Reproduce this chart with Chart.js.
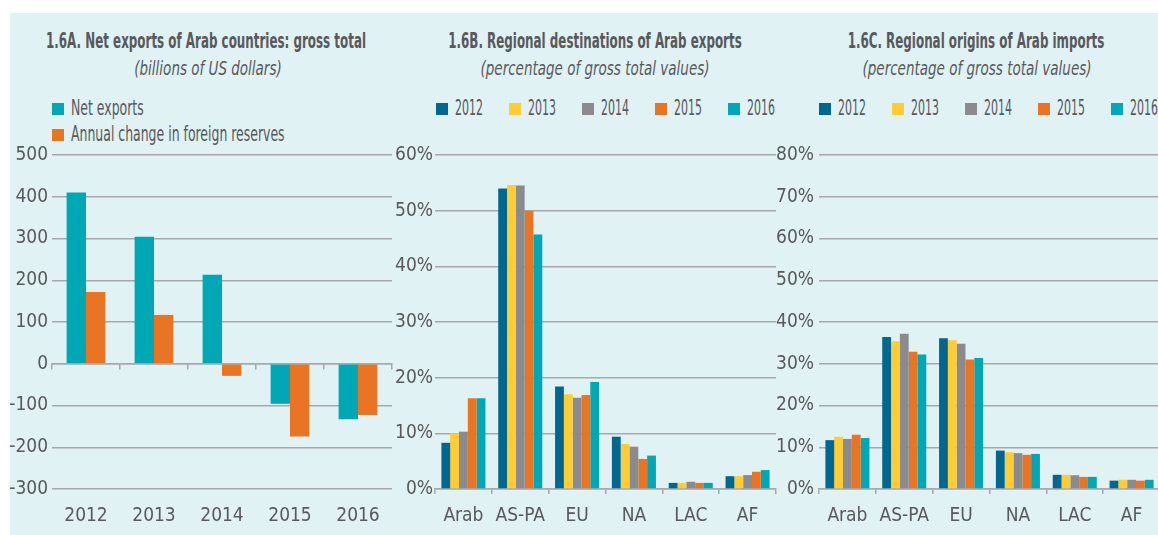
<!DOCTYPE html>
<html>
<head>
<meta charset="utf-8">
<title>Arab trade charts</title>
<script src="https://cdn.jsdelivr.net/npm/chart.js@4.4.0/dist/chart.umd.min.js"></script>
<style>
  html, body { margin: 0; padding: 0; background: #fff; overflow: hidden; }
  body { width: 1158px; height: 535px; position: relative; font-family: "DejaVu Sans Condensed", "Liberation Sans", sans-serif; color: #58595b; }
  #panel { position: absolute; left: 10px; top: 13px; width: 1148px; height: 522px; background: #e0f2f4; }
  canvas { position: absolute; top: 135px; }
  .title, .sub { position: absolute; width: 600px; text-align: center; white-space: nowrap; transform-origin: center; }
  .title { font-weight: bold; font-size: 21px; line-height: 24px; top: 29px; transform: scaleX(0.63); }
  .sub { font-style: italic; font-size: 20px; line-height: 24px; top: 56px; transform: scaleX(0.75); }
  .key { position: absolute; width: 12px; height: 12px; }
  .lab { position: absolute; font-size: 21px; line-height: 24px; white-space: nowrap; transform-origin: left center; }
</style>
</head>
<body>
<div id="panel"></div>

<div class="title" style="left:-94px">1.6A. Net exports of Arab countries: gross total</div>
<div class="sub" style="left:-92px">(billions of US dollars)</div>
<div class="title" style="left:295px">1.6B. Regional destinations of Arab exports</div>
<div class="sub" style="left:295px">(percentage of gross total values)</div>
<div class="title" style="left:676px">1.6C. Regional origins of Arab imports</div>
<div class="sub" style="left:677px">(percentage of gross total values)</div>

<div id="legendA"></div>
<div id="legendB"></div>
<div id="legendC"></div>

<canvas id="chartA" width="400" height="400" style="left:0px"></canvas>
<canvas id="chartB" width="395" height="400" style="left:390px"></canvas>
<canvas id="chartC" width="400" height="400" style="left:770px"></canvas>

<script>
// data
var years = ["2012", "2013", "2014", "2015", "2016"];
var netExports = [410, 304, 213, -96, -133];
var reserveChange = [172, 117, -29, -174, -123];

var regions = ["Arab", "AS-PA", "EU", "NA", "LAC", "AF"];
var exp2012 = [8.3, 54.0, 18.4, 9.4, 1.1, 2.3];
var exp2013 = [10.0, 54.6, 17.0, 8.1, 1.1, 2.3];
var exp2014 = [10.3, 54.5, 16.4, 7.6, 1.3, 2.5];
var exp2015 = [16.3, 50.0, 16.9, 5.4, 1.1, 3.1];
var exp2016 = [16.3, 45.7, 19.2, 6.0, 1.1, 3.4];

var imp2012 = [11.7, 36.4, 36.1, 9.2, 3.4, 2.0];
var imp2013 = [12.5, 35.4, 35.6, 8.8, 3.4, 2.2];
var imp2014 = [12.0, 37.2, 34.8, 8.6, 3.3, 2.2];
var imp2015 = [13.0, 32.9, 31.0, 8.2, 2.9, 2.0];
var imp2016 = [12.2, 32.2, 31.4, 8.4, 2.9, 2.2];

var legendA = ["Net exports", "Annual change in foreign reserves"];

// colours
var teal = "#00a8b5";
var orange = "#e97524";
var yearColors = ["#006890", "#ffcc33", "#8a8b8f", "#e97524", "#00a8b5"];
var gridColor = "#a6a8ab";
var textColor = "#58595b";

Chart.defaults.font.family = "'DejaVu Sans Condensed', 'Liberation Sans', sans-serif";
Chart.defaults.font.size = 19;
Chart.defaults.color = textColor;

// html legends
function addKey(parent, x, y, color, text, scale) {
  var box = document.createElement("div");
  box.className = "key";
  box.style.left = x + "px";
  box.style.top = y + "px";
  box.style.background = color;
  parent.appendChild(box);
  var lab = document.createElement("div");
  lab.className = "lab";
  lab.style.left = (x + 19) + "px";
  lab.style.top = (y - 7) + "px";
  lab.style.transform = "scaleX(" + scale + ")";
  lab.textContent = text;
  parent.appendChild(lab);
}
addKey(document.getElementById("legendA"), 52, 103, teal, legendA[0], 0.66);
addKey(document.getElementById("legendA"), 52, 129, orange, legendA[1], 0.66);
years.forEach(function (y, i) {
  addKey(document.getElementById("legendB"), 436 + i * 73, 103, yearColors[i], y, 0.58);
  addKey(document.getElementById("legendC"), 819 + i * 73, 103, yearColors[i], y, 0.58);
});

var baseOptions = {
  responsive: false,
  animation: false,
  devicePixelRatio: 1,
  plugins: {
    legend: { display: false },
    tooltip: { enabled: false },
  },
};

// 1.6A
new Chart(document.getElementById("chartA"), {
  type: "bar",
  data: {
    labels: years,
    datasets: [
      { label: legendA[0], data: netExports, backgroundColor: teal, xAxisID: "x", yAxisID: "y" },
      { label: legendA[1], data: reserveChange, backgroundColor: orange, xAxisID: "x", yAxisID: "y" },
    ],
  },
  options: Object.assign({}, baseOptions, {
    layout: { padding: { top: 20, right: 8, left: 0, bottom: 0 } },
    datasets: { bar: { categoryPercentage: 0.57, barPercentage: 1 } },
    scales: {
      x: {
        grid: { display: false, drawTicks: false },
        border: { display: false },
        ticks: { padding: 16, maxRotation: 0 },
        afterFit: function (s) { s.height = 46; },
      },
      x2: {
        axis: "x",
        type: "category",
        labels: years,
        offset: true,
        position: { y: 0 },
        grid: { offset: true, drawOnChartArea: false, drawTicks: true, tickLength: 5, color: gridColor, lineWidth: 1.5 },
        border: { display: true, color: gridColor, width: 1.5 },
        ticks: { display: false },
      },
      y: {
        min: -300,
        max: 500,
        ticks: { stepSize: 100, padding: 4 },
        grid: { color: gridColor, lineWidth: 1.5, drawTicks: false },
        border: { display: false },
        afterFit: function (s) { s.width = 52; },
      },
    },
  }),
});

function shareChart(id, data, maxVal, yWidth, yPad, rightPad) {
  return new Chart(document.getElementById(id), {
    type: "bar",
    data: {
      labels: regions,
      datasets: data.map(function (d, i) {
        return { label: years[i], data: d, backgroundColor: yearColors[i] };
      }),
    },
    options: Object.assign({}, baseOptions, {
      layout: { padding: { top: 20, right: rightPad, left: 0, bottom: 0 } },
      datasets: { bar: { categoryPercentage: 0.775, barPercentage: 1 } },
      scales: {
        x: {
          grid: { offset: true, drawOnChartArea: false, drawTicks: true, tickLength: 5, color: gridColor, lineWidth: 1.5 },
          border: { display: true, color: gridColor, width: 1.5 },
          ticks: { padding: 11, maxRotation: 0, autoSkip: false },
          afterFit: function (s) { s.height = 46; },
        },
        y: {
          min: 0,
          max: maxVal,
          ticks: {
            stepSize: 10,
            padding: yPad,
            callback: function (v) { return v + "%"; },
          },
          grid: { color: gridColor, lineWidth: 1.5, drawTicks: false },
          border: { display: false },
          afterFit: function (s) { s.width = yWidth; },
        },
      },
    }),
  });
}

// 1.6B
shareChart("chartB", [exp2012, exp2013, exp2014, exp2015, exp2016], 60, 45, 2, 9);
// 1.6C
shareChart("chartC", [imp2012, imp2013, imp2014, imp2015, imp2016], 80, 49, 5, 10);
</script>
</body>
</html>
